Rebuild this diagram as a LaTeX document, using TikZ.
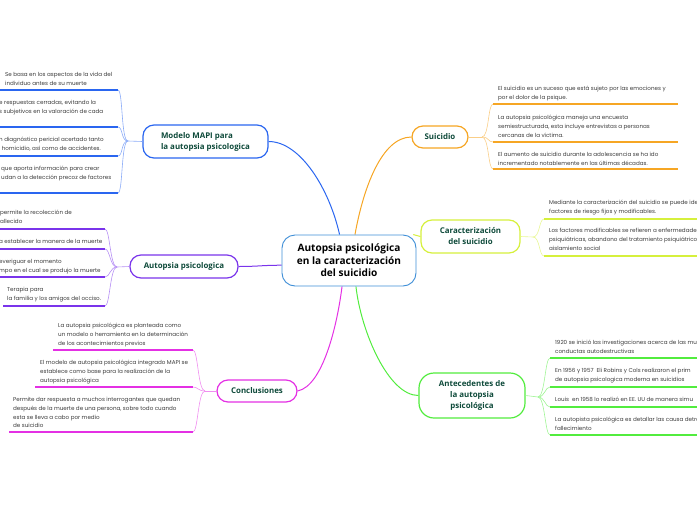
\documentclass[tikz,border=0pt]{standalone}
\usepackage{fontspec}
\setmainfont{Open Sans}
\newfontfamily\leaffont{Poppins}
\usepackage{tikz}
\usetikzlibrary{positioning,backgrounds}
\definecolor{rootblue}{RGB}{62,142,215}
\definecolor{mapiblue}{RGB}{42,102,240}
\definecolor{autopurple}{RGB}{122,52,235}
\definecolor{conclmag}{RGB}{228,48,228}
\definecolor{suiorange}{RGB}{246,166,36}
\definecolor{caralime}{RGB}{214,240,60}
\definecolor{antegreen}{RGB}{82,236,62}
\definecolor{labgreen}{RGB}{14,74,58}
\definecolor{leafgray}{RGB}{58,58,58}

\tikzset{
  root/.style={draw=rootblue, line width=0.9pt, fill=white, rounded corners=13pt,
    minimum width=134pt, minimum height=51pt, inner sep=0pt, align=center,
    font=\bfseries\fontsize{10.1}{12.5}\selectfont},
  topic/.style={draw=#1, line width=1.2pt, fill=white, rounded corners=11pt,
    inner sep=0pt, text=labgreen, font=\bfseries\fontsize{7.9}{11}\selectfont},
  leaf/.style={anchor=north west, inner sep=0pt, align=left, text=leafgray,
    font=\leaffont\fontsize{5.6}{8.7}\selectfont},
  branch/.style={draw=#1, line width=1pt},
  twig/.style={draw=#1!55, line width=0.6pt},
  uline/.style={draw=#1, line width=1.7pt},
}

\begin{document}
\begin{tikzpicture}[x=1pt, y=-1pt]
\useasboundingbox (0,0) rectangle (697,520);
\clip (0,0) rectangle (697,520);

% central idea
\node[root] (root) at (349,260.5) {Autopsia psicológica\\en la caracterización\\del suicidio};

% main topics
\node[topic=mapiblue, minimum width=125pt, minimum height=33pt, align=left] (mapi) at (205.5,141.5)
  {Modelo MAPI para\\la autopsia psicologica};
\node[topic=autopurple, minimum width=108pt, minimum height=23pt] (auto) at (184,266.5) {Autopsia psicologica};
\node[topic=conclmag, minimum width=80pt, minimum height=22pt] (concl) at (257,391) {Conclusiones};
\node[topic=suiorange, minimum width=56pt, minimum height=22pt] (sui) at (440,137) {Suicidio};
\node[topic=caralime, minimum width=99pt, minimum height=33pt, align=center] (cara) at (470.5,236.5)
  {Caracterización\\del suicidio};
\node[topic=antegreen, minimum width=106pt, minimum height=45pt, align=center, rounded corners=15pt] (ante) at (472,395.5)
  {Antecedentes de\\la autopsia\\psicológica};

% root to topics
\begin{scope}[on background layer]
  \draw[branch=mapiblue] (mapi.east) .. controls +(32,0) and +(-10,-45) .. (root.110);
  \draw[branch=suiorange] (root.77) .. controls +(8,-45) and +(-30,0) .. (sui.west);
  \draw[branch=caralime] (root.22) -- (cara.west);
  \draw[branch=autopurple] (auto.east) .. controls +(20,0) and +(-20,0) .. (root.184);
  \draw[branch=conclmag] (concl.east) .. controls +(25,-5) and +(-5,40) .. (root.255);
  \draw[branch=antegreen] (root.285) .. controls +(5,45) and +(-30,0) .. (ante.west);
\end{scope}

% bundle points
\coordinate (mapiB) at (128,141);
\coordinate (autoB) at (117,267);
\coordinate (conclB) at (205,391);
\coordinate (suiB) at (482,137);
\coordinate (caraB) at (533,237);
\coordinate (anteB) at (538,397);
\draw[twig=mapiblue] (mapi.west) -- (mapiB);
\draw[twig=autopurple] (auto.west) -- (autoB);
\draw[twig=conclmag] (concl.west) -- (conclB);
\draw[twig=suiorange] (sui.east) -- (suiB);
\draw[twig=caralime] (cara.east) -- (caraB);
\draw[twig=antegreen] (ante.east) -- (anteB);

% Modelo MAPI leaves
\foreach \i/\tx/\ty/\uy/\txt in {
  1/5/75/90/{Se basa en los aspectos de la vida del\\individuo antes de su muerte},
  2/-1/103/127/{e respuestas cerradas, evitando la\\s subjetivos en la valoración de cada},
  3/-1/140/156/{n diagnóstico pericial acertado tanto\\, homicidio, así como de accidentes.},
  4/1/169/193/{que aporta información para crear\\udan a la detección precoz de factores}}{
  \node[leaf] (mapi-\i) at (\tx,\ty-2.7) {\txt};
  \coordinate (mapi-\i-r) at (118,\uy);
  \coordinate (mapi-\i-l) at (0,\uy);
  \draw[twig=mapiblue] (mapiB) .. controls +(-7,0) and +(5,0) .. (mapi-\i-r);
  \draw[uline=mapiblue] (mapi-\i-r) -- (mapi-\i-l);
}

% Autopsia psicologica leaves
\foreach \i/\tx/\ty/\uy/\ux/\txt in {
  1/0/213/229/0/{permite la recolección de\\allecido},
  2/-1/242/249/0/{a establecer la manera de la muerte},
  3/-1/262/277/0/{everiguar el momento\\mpo en el cual se produjo la muerte},
  4/7/290/306/3/{Terapia para\\la familia y los amigos del occiso.}}{
  \node[leaf] (auto-\i) at (\tx,\ty-2.7) {\txt};
  \coordinate (auto-\i-r) at (105,\uy);
  \coordinate (auto-\i-l) at (\ux,\uy);
  \draw[twig=autopurple] (autoB) .. controls +(-7,0) and +(5,0) .. (auto-\i-r);
  \draw[uline=autopurple] (auto-\i-r) -- (auto-\i-l);
}

% Conclusiones leaves
\foreach \i/\tx/\ty/\uy/\ux/\txt in {
  1/58/326/350/53/{La autopsia psicológica es planteada como\\un modelo o herramienta en la determinación\\de los acontecimientos previos},
  2/40/363/387/35/{El modelo de autopsia psicológica integrado MAPI se\\establece como base para la realización de la\\autopsia psicológica},
  3/13/400/432/9/{Permite dar respuesta a muchos interrogantes que quedan\\después de la muerte de una persona, sobre todo cuando\\esta se lleva a cabo por medio\\de suicidio}}{
  \node[leaf] (concl-\i) at (\tx,\ty-2.7) {\txt};
  \coordinate (concl-\i-r) at (193,\uy);
  \coordinate (concl-\i-l) at (\ux,\uy);
  \draw[twig=conclmag] (conclB) .. controls +(-7,0) and +(5,0) .. (concl-\i-r);
  \draw[uline=conclmag] (concl-\i-r) -- (concl-\i-l);
}

% Suicidio leaves
\foreach \i/\ty/\uy/\txt in {
  1/89/104/{El suicidio es un suceso que está sujeto por las emociones y\\por el dolor de la psique.},
  2/118/142/{La autopsia psicológica maneja una encuesta\\semiestructurada, esta incluye entrevistas a personas\\cercanas de la víctima.},
  3/155/169/{El aumento de suicidio durante la adolescencia se ha ido\\incrementado notablemente en las últimas décadas.}}{
  \node[leaf] (sui-\i) at (498,\ty-2.7) {\txt};
  \coordinate (sui-\i-l) at (493,\uy);
  \coordinate (sui-\i-r) at (678,\uy);
  \draw[twig=suiorange] (suiB) .. controls +(7,0) and +(-5,0) .. (sui-\i-l);
  \draw[uline=suiorange] (sui-\i-l) -- (sui-\i-r);
}

% Caracterizacion leaves
\foreach \i/\ty/\uy/\txt in {
  1/203/219/{Mediante la caracterización del suicidio se puede ide\\factores de riesgo fijos y modificables.},
  2/231/256/{Los factores modificables se refieren a enfermedade\\psiquiátricas, abandono del tratamiento psiquiátrico\\aislamiento social}}{
  \node[leaf] (cara-\i) at (549,\ty-2.7) {\txt};
  \coordinate (cara-\i-l) at (544,\uy);
  \coordinate (cara-\i-r) at (697,\uy);
  \draw[twig=caralime] (caraB) .. controls +(7,0) and +(-5,0) .. (cara-\i-l);
  \draw[uline=caralime] (cara-\i-l) -- (cara-\i-r);
}

% Antecedentes leaves
\foreach \i/\ty/\uy/\txt in {
  1/343/358/{1920 se inició las investigaciones acerca de las mu\\conductas autodestructivas},
  2/371/387/{En 1956 y 1957\ \ Eli Robins y Cols realizaron el prim\\de autopsia psicologica moderna en suicidios},
  3/400/407/{Louis\ \ en 1958 lo realizó en EE. UU de manera simu},
  4/420/435/{La autopista psicológica es detallar las causa detrá\\fallecimiento}}{
  \node[leaf] (ante-\i) at (555,\ty-2.7) {\txt};
  \coordinate (ante-\i-l) at (550,\uy);
  \coordinate (ante-\i-r) at (697,\uy);
  \draw[twig=antegreen] (anteB) .. controls +(7,0) and +(-5,0) .. (ante-\i-l);
  \draw[uline=antegreen] (ante-\i-l) -- (ante-\i-r);
}
\end{tikzpicture}
\end{document}
